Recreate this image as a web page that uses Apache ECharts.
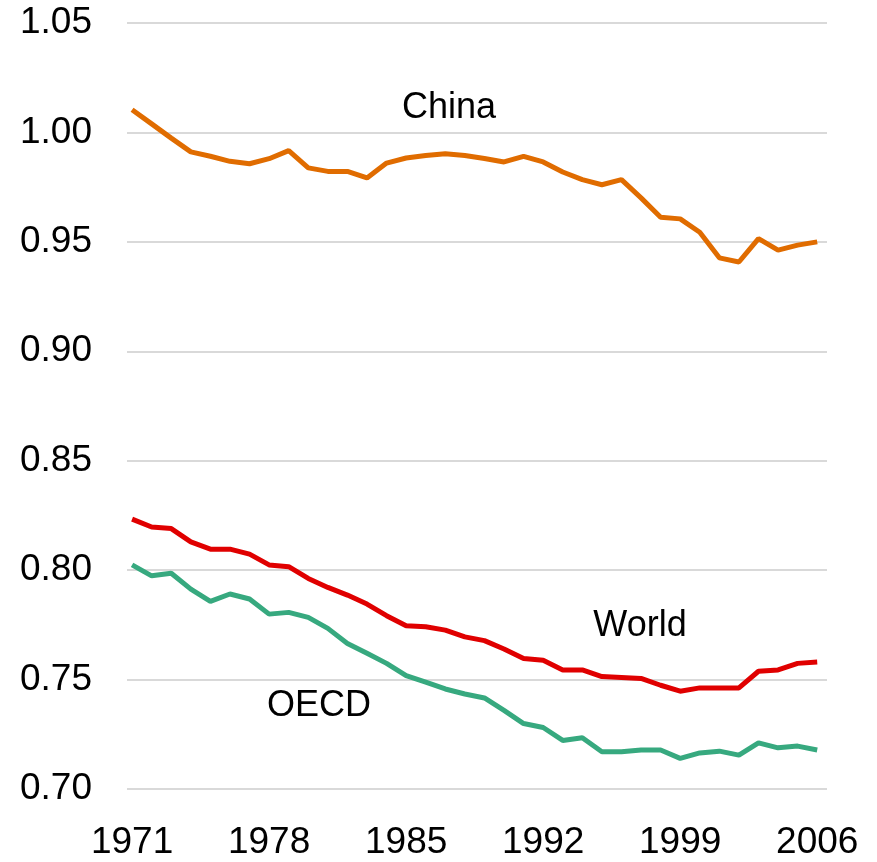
<!DOCTYPE html>
<html>
<head>
<meta charset="utf-8">
<script src="https://cdn.jsdelivr.net/npm/echarts@6/dist/echarts.min.js"></script>
<style>
  html, body { margin: 0; padding: 0; background: #fff; }
  #container { width: 877px; height: 862px; }
</style>
</head>
<body>
<div id="container"></div>
<script>
var years = [];
for (var y = 1971; y <= 2006; y++) years.push(y);

var xTickLabels = [1971, 1978, 1985, 1992, 1999, 2006];

var china = [1.0104, 1.0039, 0.9974, 0.9911, 0.9891, 0.9868, 0.9857, 0.9880, 0.9917, 0.9838,
             0.9822, 0.9822, 0.9792, 0.9860, 0.9883, 0.9895, 0.9903, 0.9895, 0.9881, 0.9865,
             0.9891, 0.9865, 0.9819, 0.9784, 0.9761, 0.9784, 0.9701, 0.9612, 0.9605, 0.9544,
             0.9427, 0.9408, 0.9515, 0.9462, 0.9485, 0.9500];

var world = [0.8233, 0.8197, 0.8190, 0.8129, 0.8096, 0.8096, 0.8073, 0.8024, 0.8016, 0.7962,
             0.7921, 0.7886, 0.7845, 0.7792, 0.7746, 0.7741, 0.7726, 0.7695, 0.7678, 0.7640,
             0.7596, 0.7588, 0.7544, 0.7544, 0.7514, 0.7510, 0.7505, 0.7474, 0.7447, 0.7462,
             0.7462, 0.7462, 0.7538, 0.7544, 0.7574, 0.7580];

var oecd = [0.8024, 0.7974, 0.7986, 0.7913, 0.7857, 0.7891, 0.7868, 0.7799, 0.7807, 0.7784,
            0.7734, 0.7665, 0.7620, 0.7574, 0.7518, 0.7488, 0.7457, 0.7434, 0.7416, 0.7359,
            0.7299, 0.7281, 0.7222, 0.7234, 0.7170, 0.7170, 0.7178, 0.7178, 0.7140, 0.7165,
            0.7173, 0.7155, 0.7211, 0.7188, 0.7196, 0.7178];

function pairs(values) {
    return values.map(function (v, i) { return [years[i], v]; });
}

var font = '"Liberation Sans", Arial, sans-serif';

var myChart = echarts.init(document.getElementById('container'));

var option = {
    backgroundColor: '#ffffff',
    animation: false,
    grid: {
        left: 127,
        right: 50,
        top: 23,
        bottom: 73
    },
    xAxis: {
        type: 'value',
        min: 1970.74,
        max: 2006.5,
        axisLine: { show: false },
        axisTick: { show: false },
        splitLine: { show: false },
        axisLabel: {
            customValues: xTickLabels,
            margin: 35,
            fontSize: 37,
            fontFamily: font,
            color: '#000',
            formatter: function (v) { return String(v); }
        }
    },
    yAxis: {
        type: 'value',
        min: 0.70,
        max: 1.05,
        interval: 0.05,
        axisLine: { show: false },
        axisTick: { show: false },
        splitLine: {
            lineStyle: { color: '#d9d9d9', width: 2 }
        },
        axisLabel: {
            margin: 35,
            fontSize: 37,
            fontFamily: font,
            color: '#000',
            formatter: function (v) { return v.toFixed(2); }
        }
    },
    series: [
        {
            name: 'China',
            type: 'line',
            data: pairs(china),
            showSymbol: false,
            lineStyle: { color: '#e06c00', width: 5 }
        },
        {
            name: 'World',
            type: 'line',
            data: pairs(world),
            showSymbol: false,
            lineStyle: { color: '#e00000', width: 5 }
        },
        {
            name: 'OECD',
            type: 'line',
            data: pairs(oecd),
            showSymbol: false,
            lineStyle: { color: '#37a97f', width: 5 }
        }
    ],
    graphic: [
        {
            type: 'text', x: 449, y: 108,
            style: { text: 'China', fontSize: 36, fontFamily: font, fill: '#000', align: 'center', verticalAlign: 'middle' }
        },
        {
            type: 'text', x: 640, y: 626,
            style: { text: 'World', fontSize: 36, fontFamily: font, fill: '#000', align: 'center', verticalAlign: 'middle' }
        },
        {
            type: 'text', x: 319, y: 706,
            style: { text: 'OECD', fontSize: 36, fontFamily: font, fill: '#000', align: 'center', verticalAlign: 'middle' }
        }
    ]
};

myChart.setOption(option);
</script>
</body>
</html>
